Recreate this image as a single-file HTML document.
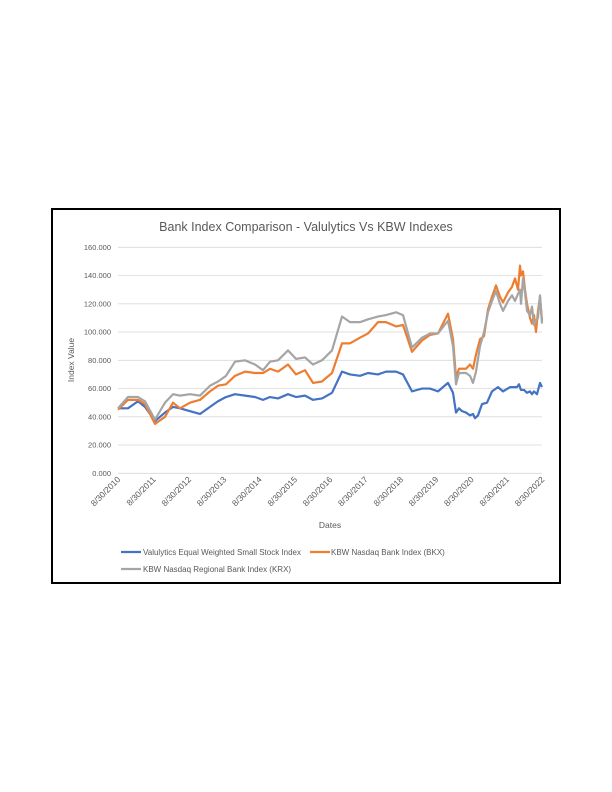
<!DOCTYPE html>
<html><head><meta charset="utf-8"><style>
html,body{margin:0;padding:0;background:#fff;}
svg{display:block;font-family:"Liberation Sans",sans-serif;}
</style></head><body>
<svg width="612" height="792" viewBox="0 0 612 792">
<rect x="52" y="209" width="508" height="374" fill="#fff" stroke="#000" stroke-width="2"/>
<text x="306" y="231" text-anchor="middle" font-size="12.5" fill="#595959">Bank Index Comparison - Valulytics Vs KBW Indexes</text>
<g stroke="#d9d9d9" stroke-width="0.8">
<line x1="118" x2="542" y1="247.3" y2="247.3"/><line x1="118" x2="542" y1="275.5" y2="275.5"/>
<line x1="118" x2="542" y1="303.8" y2="303.8"/><line x1="118" x2="542" y1="332" y2="332"/>
<line x1="118" x2="542" y1="360.3" y2="360.3"/><line x1="118" x2="542" y1="388.5" y2="388.5"/>
<line x1="118" x2="542" y1="416.8" y2="416.8"/><line x1="118" x2="542" y1="445" y2="445"/>
<line x1="118" x2="542" y1="473.3" y2="473.3"/>
</g>
<g font-size="7.5" fill="#595959" text-anchor="end">
<text x="111" y="250">160.000</text><text x="111" y="278.2">140.000</text><text x="111" y="306.5">120.000</text>
<text x="111" y="334.7">100.000</text><text x="111" y="363">80.000</text><text x="111" y="391.2">60.000</text>
<text x="111" y="419.5">40.000</text><text x="111" y="447.7">20.000</text><text x="111" y="476">0.000</text>
</g>
<g font-size="8.5" fill="#595959" text-anchor="end">
<text transform="translate(121,480) rotate(-45)">8/30/2010</text>
<text transform="translate(156.3,480) rotate(-45)">8/30/2011</text>
<text transform="translate(191.7,480) rotate(-45)">8/30/2012</text>
<text transform="translate(227,480) rotate(-45)">8/30/2013</text>
<text transform="translate(262.3,480) rotate(-45)">8/30/2014</text>
<text transform="translate(297.7,480) rotate(-45)">8/30/2015</text>
<text transform="translate(333,480) rotate(-45)">8/30/2016</text>
<text transform="translate(368.3,480) rotate(-45)">8/30/2017</text>
<text transform="translate(403.7,480) rotate(-45)">8/30/2018</text>
<text transform="translate(439,480) rotate(-45)">8/30/2019</text>
<text transform="translate(474.3,480) rotate(-45)">8/30/2020</text>
<text transform="translate(509.7,480) rotate(-45)">8/30/2021</text>
<text transform="translate(545,480) rotate(-45)">8/30/2022</text>
</g>
<text x="330" y="528" text-anchor="middle" font-size="8.5" fill="#595959">Dates</text>
<text transform="translate(74,360) rotate(-90)" text-anchor="middle" font-size="8.5" fill="#595959">Index Value</text>
<g transform="translate(0,473.3) scale(1,-1.4125)" fill="none" stroke-width="2.2" stroke-linejoin="round">
<polyline vector-effect="non-scaling-stroke" stroke="#4472c4" points="118,46 128,46 138,51 145,47 155,37 165,43 173,47 180,46 190,44 200,42 210,47 218,51 226,54 235,56 245,55 255,54 263,52 270,54 278,53 288,56 296,54 305,55 313,52 322,53 332,57 342,72 350,70 360,69 368,71 378,70 386,72 396,72 403,70 412,58 422,60 430,60 438,58 448,64 453,57 456,43 459,46 462,44 466,43 470,41 473,42 475,39 478,41 482,49 487,50 492,58 498,61 503,58 510,61 517,61 519,63 521,59 524,59 527,57 530,58 532,56 534,58 537,56 540,64 542,61"/>
<polyline vector-effect="non-scaling-stroke" stroke="#ed7d31" points="118,45 128,52 138,52 145,49 155,35 165,40 173,50 180,46 190,50 200,52 210,58 218,62 226,63 235,69 245,72 255,71 263,71 270,74 278,72 288,77 296,70 305,73 313,64 322,65 332,71 342,92 350,92 360,96 368,99 378,107 386,107 396,104 403,105 412,86 422,94 430,98 438,99 448,113 453,95 456,68 459,74 466,74 470,77 473,74 476,84 480,95 484,97 488,116 492,125 496,133 500,125 503,121 508,128 512,132 515,138 518,130 520,147 521,140 523,143 525,130 527,120 530,110 532,106 534,112 536,100 538,115 540,125 542,108"/>
<polyline vector-effect="non-scaling-stroke" stroke="#a5a5a5" points="118,46 128,54 138,54 145,51 155,38 165,50 173,56 180,55 190,56 200,55 210,62 218,65 226,69 235,79 245,80 255,77 263,73 270,79 278,80 288,87 296,81 305,82 313,77 322,80 332,87 342,111 350,107 360,107 368,109 378,111 386,112 396,114 403,112 412,89 422,96 430,99 438,99 448,108 453,90 456,63 459,71 466,71 470,69 473,64 476,72 480,90 484,100 488,114 492,122 496,129 500,120 503,115 508,122 512,126 515,122 518,127 520,130 521,120 523,138 525,128 527,115 530,112 532,118 534,105 536,108 538,110 540,126 542,106"/>
</g>
<g font-size="8" fill="#595959">
<line x1="121" x2="141" y1="552" y2="552" stroke="#4472c4" stroke-width="2.2"/>
<text x="143" y="555">Valulytics Equal Weighted Small Stock Index</text>
<line x1="310" x2="330" y1="552" y2="552" stroke="#ed7d31" stroke-width="2.2"/>
<text x="331" y="555">KBW Nasdaq Bank Index (BKX)</text>
<line x1="121" x2="141" y1="569" y2="569" stroke="#a5a5a5" stroke-width="2.2"/>
<text x="143" y="572">KBW Nasdaq Regional Bank Index (KRX)</text>
</g>
</svg>
</body></html>
